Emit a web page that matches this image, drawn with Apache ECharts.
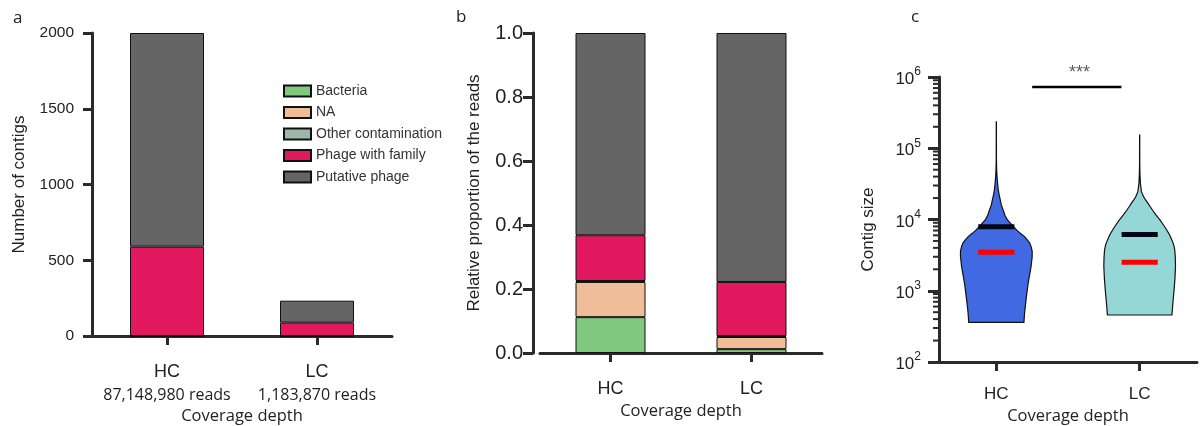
<!DOCTYPE html>
<html>
<head>
<meta charset="utf-8">
<script src="https://cdn.jsdelivr.net/npm/echarts@6/dist/echarts.min.js"></script>
<style>
html,body{margin:0;padding:0;background:#fff;}
#main{width:1204px;height:426px;}
</style>
</head>
<body>
<div id="main"></div>
<script>
// ---------- DATA ----------
const categories = ['HC', 'LC'];
const readsLabels = ['87,148,980 reads', '1,183,870 reads'];
const seriesNames = ['Bacteria', 'NA', 'Other contamination', 'Phage with family', 'Putative phage'];

// Panel a: number of contigs
const contigBacteria = [0, 0];
const contigNA = [0, 0];
const contigOther = [0, 0];
const contigPhageFamily = [590, 88];
const contigPutative = [1410, 145];

// Panel b: relative proportion of reads
const propBacteria = [0.112, 0.012];
const propNA = [0.110, 0.038];
const propOther = [0.003, 0.003];
const propPhageFamily = [0.143, 0.169];
const propPutative = [0.632, 0.778];

// Panel c: violin profiles (contig size, relative density)
const hcViolinSize = [361, 500, 826, 1200, 1574, 2200, 3006, 3600, 4169, 4700, 5129, 5800, 6397, 7100, 7943, 8900, 9840, 11500, 13580, 16000, 18790, 22000, 25940, 32000, 39800, 49000, 70000, 234000];
const hcViolinDensity = [0.77, 0.79, 0.84, 0.88, 0.92, 0.97, 1.0, 1.0, 0.97, 0.93, 0.87, 0.78, 0.67, 0.57, 0.48, 0.39, 0.31, 0.24, 0.19, 0.14, 0.11, 0.08, 0.055, 0.035, 0.02, 0.01, 0.003, 0.002];
const lcViolinSize = [457, 700, 1023, 1500, 2188, 2900, 3715, 4400, 5129, 6000, 7079, 8300, 9772, 11500, 13490, 15200, 16980, 18900, 20890, 24550, 32360, 44670, 60000, 153500];
const lcViolinDensity = [0.90, 0.93, 0.96, 0.985, 1.0, 0.995, 0.98, 0.95, 0.90, 0.84, 0.76, 0.67, 0.57, 0.46, 0.36, 0.29, 0.23, 0.165, 0.11, 0.05, 0.02, 0.008, 0.003, 0.002];
const blackMarkers = [7940, 6170];
const redMarkers = [3470, 2510];
const sigLineX = [1.25, 1.873];
const sigLineY = 724000;
const sigLabelX = 1.58;
const sigText = '***';

// Log-axis tick values
const logMajorTicks = [100, 1000, 10000, 100000, 1000000];
const logMinorMultipliers = [2, 3, 4, 5, 6, 7, 8, 9];

// ---------- STYLE ----------
const colors = ['#80c97e', '#efbd98', '#9db8a6', '#e2195f', '#656565'];
const axisColor = '#2a2a2a';
const sansA = '"Liberation Sans", Arial, sans-serif';
const sansB = '"Open Sans", "Noto Sans", sans-serif';

const minorTickValues = [];
for (let i = 0; i < logMajorTicks.length - 1; i++) {
  logMinorMultipliers.forEach(m => minorTickValues.push(m * logMajorTicks[i]));
}

const chart = echarts.init(document.getElementById('main'), null, {renderer: 'canvas'});

function axisLineStyle() { return {show: true, lineStyle: {color: axisColor, width: 3}}; }

const contigData = [contigBacteria, contigNA, contigOther, contigPhageFamily, contigPutative];
const propData = [propBacteria, propNA, propOther, propPhageFamily, propPutative];

const series = [];
seriesNames.forEach((name, i) => {
  series.push({
    type: 'bar', name: name, stack: 'a', xAxisIndex: 0, yAxisIndex: 0,
    barWidth: 74, data: contigData[i],
    itemStyle: {color: colors[i], borderColor: '#111', borderWidth: 1}
  });
});
seriesNames.forEach((name, i) => {
  series.push({
    type: 'bar', name: name, stack: 'b', xAxisIndex: 1, yAxisIndex: 1,
    barWidth: 70, data: propData[i],
    itemStyle: {color: colors[i], borderColor: '#111', borderWidth: 1}
  });
});

const violinHalfWidth = 0.25;
function violinSeries(xPos, sizes, dens, color) {
  return {
    type: 'custom', xAxisIndex: 2, yAxisIndex: 2, silent: true,
    data: [[xPos, sizes[0]]],
    renderItem: function (params, api) {
      const right = [], left = [];
      for (let i = 0; i < sizes.length; i++) {
        right.push(api.coord([xPos + dens[i] * violinHalfWidth, sizes[i]]));
        left.push(api.coord([xPos - dens[i] * violinHalfWidth, sizes[i]]));
      }
      const pts = right.concat(left.reverse());
      return {
        type: 'polygon',
        shape: {points: pts},
        style: {fill: color, stroke: '#111', lineWidth: 1.2}
      };
    }
  };
}
series.push(violinSeries(1, hcViolinSize, hcViolinDensity, '#4169e1'));
series.push(violinSeries(2, lcViolinSize, lcViolinDensity, '#95d7d6'));

function markerSeries(values, color) {
  return {
    type: 'custom', xAxisIndex: 2, yAxisIndex: 2, silent: true,
    data: values.map((v, i) => [i + 1, v]),
    renderItem: function (params, api) {
      const x = api.value(0), y = api.value(1);
      const a = api.coord([x - 0.126, y]);
      const b = api.coord([x + 0.126, y]);
      return {type: 'rect', shape: {x: a[0], y: a[1] - 2.5, width: b[0] - a[0], height: 5}, style: {fill: color}};
    }
  };
}
series.push(markerSeries(blackMarkers, '#020617'));
series.push(markerSeries(redMarkers, '#ff0000'));

// minor ticks on log axis
series.push({
  type: 'custom', xAxisIndex: 2, yAxisIndex: 2, silent: true,
  data: minorTickValues.map(v => [0.6, v]),
  renderItem: function (params, api) {
    const p = api.coord([api.value(0), api.value(1)]);
    return {type: 'line', shape: {x1: p[0] - 6, y1: p[1], x2: p[0], y2: p[1]}, style: {stroke: axisColor, lineWidth: 2}};
  }
});

// significance line
series.push({
  type: 'line', xAxisIndex: 2, yAxisIndex: 2, silent: true, symbol: 'none',
  data: sigLineX.map(x => [x, sigLineY]),
  lineStyle: {color: '#000', width: 2.5}
});
series.push({
  type: 'scatter', xAxisIndex: 2, yAxisIndex: 2, silent: true, symbolSize: 0,
  data: [[sigLabelX, sigLineY]],
  label: {show: true, position: 'top', distance: 5, formatter: sigText, color: '#333', fontSize: 18, fontFamily: sansA}
});

const option = {
  animation: false,
  backgroundColor: '#fff',
  title: [
    {text: 'a', left: 8, top: 5, textStyle: {fontSize: 17, fontWeight: 'normal', color: '#222', fontFamily: sansB}},
    {text: 'b', left: 451, top: 4, textStyle: {fontSize: 17, fontWeight: 'normal', color: '#222', fontFamily: sansB}},
    {text: 'c', left: 906, top: 4, textStyle: {fontSize: 17, fontWeight: 'normal', color: '#222', fontFamily: sansB}}
  ],
  legend: {
    orient: 'vertical', left: 278, top: 79,
    itemWidth: 27, itemHeight: 11, itemGap: 7.5,
    icon: 'rect',
    data: seriesNames,
    textStyle: {fontSize: 14, color: '#333', fontFamily: sansA},
    selectedMode: false
  },
  grid: [
    {left: 92, top: 33, width: 300, height: 303, containLabel: false, outerBoundsMode: 'none'},
    {left: 540, top: 33, width: 282, height: 320, containLabel: false, outerBoundsMode: 'none'},
    {left: 939, top: 77, width: 258, height: 285, containLabel: false, outerBoundsMode: 'none'}
  ],
  xAxis: [
    {
      gridIndex: 0, type: 'category', data: categories,
      axisLine: axisLineStyle(),
      axisTick: {show: true, alignWithLabel: true, length: 9, lineStyle: {color: axisColor, width: 3}},
      axisLabel: {
        margin: 25, interval: 0,
        formatter: function (v, i) { return '{c|' + v + '}\n{r|' + readsLabels[i] + '}'; },
        rich: {
          c: {fontSize: 18, lineHeight: 22, color: '#222', fontFamily: sansA},
          r: {fontSize: 16, lineHeight: 24, color: '#222', fontFamily: sansB}
        }
      },
      name: 'Coverage depth', nameLocation: 'middle', nameGap: 69,
      nameTextStyle: {fontSize: 16.5, color: '#222', fontFamily: sansB}
    },
    {
      gridIndex: 1, type: 'category', data: categories, offset: 8,
      axisLine: axisLineStyle(),
      axisTick: {show: true, alignWithLabel: true, length: 9, lineStyle: {color: axisColor, width: 3}},
      axisLabel: {margin: 19, fontSize: 18, color: '#222', fontFamily: sansA},
      name: 'Coverage depth', nameLocation: 'middle', nameGap: 38,
      nameTextStyle: {fontSize: 16.5, color: '#222', fontFamily: sansB}
    },
    {
      gridIndex: 2, type: 'value', min: 0.6, max: 2.4,
      axisLine: axisLineStyle(),
      splitLine: {show: false},
      axisTick: {show: true, customValues: [1, 2], length: 9, lineStyle: {color: axisColor, width: 3}},
      axisLabel: {
        customValues: [1, 2], margin: 24, fontSize: 17, color: '#222', fontFamily: sansA,
        formatter: function (v) { return categories[Math.round(v) - 1] || ''; }
      },
      name: 'Coverage depth', nameLocation: 'middle', nameGap: 45,
      nameTextStyle: {fontSize: 16.5, color: '#222', fontFamily: sansB}
    }
  ],
  yAxis: [
    {
      gridIndex: 0, type: 'value', min: 0, max: 2000, interval: 500,
      axisLine: axisLineStyle(),
      axisTick: {show: true, length: 9, lineStyle: {color: axisColor, width: 3}},
      axisLabel: {margin: 18, fontSize: 15.5, color: '#222', fontFamily: sansA, formatter: v => String(v)},
      splitLine: {show: false},
      name: 'Number of contigs', nameLocation: 'middle', nameGap: 64,
      nameTextStyle: {fontSize: 17, color: '#222', fontFamily: sansA}
    },
    {
      gridIndex: 1, type: 'value', min: 0, max: 1, interval: 0.2, offset: 7,
      axisLine: axisLineStyle(),
      axisTick: {show: true, length: 10, lineStyle: {color: axisColor, width: 3}},
      axisLabel: {margin: 10, fontSize: 20, color: '#222', fontFamily: sansA, formatter: v => v.toFixed(1)},
      splitLine: {show: false},
      name: 'Relative proportion of the reads', nameLocation: 'middle', nameGap: 50,
      nameTextStyle: {fontSize: 17, color: '#222', fontFamily: sansA}
    },
    {
      gridIndex: 2, type: 'log', logBase: 10, min: 100, max: 1000000,
      axisLine: axisLineStyle(),
      axisTick: {show: true, length: 11, lineStyle: {color: axisColor, width: 3}},
      axisLabel: {
        margin: 18, color: '#222', fontFamily: sansA,
        formatter: function (v) { return '{b|10}{s|' + Math.round(Math.log10(v)) + '}'; },
        rich: {
          b: {fontSize: 17, lineHeight: 22, color: '#222', fontFamily: sansA, verticalAlign: 'bottom'},
          s: {fontSize: 12, lineHeight: 22, color: '#222', fontFamily: sansA, verticalAlign: 'top', padding: [0, 0, 8, 0]}
        }
      },
      splitLine: {show: false},
      minorTick: {show: false},
      name: 'Contig size', nameLocation: 'middle', nameGap: 62,
      nameTextStyle: {fontSize: 17, color: '#222', fontFamily: sansA, padding: [0, 20, 0, 0]}
    }
  ],
  series: series
};
chart.setOption(option);
</script>
</body>
</html>
